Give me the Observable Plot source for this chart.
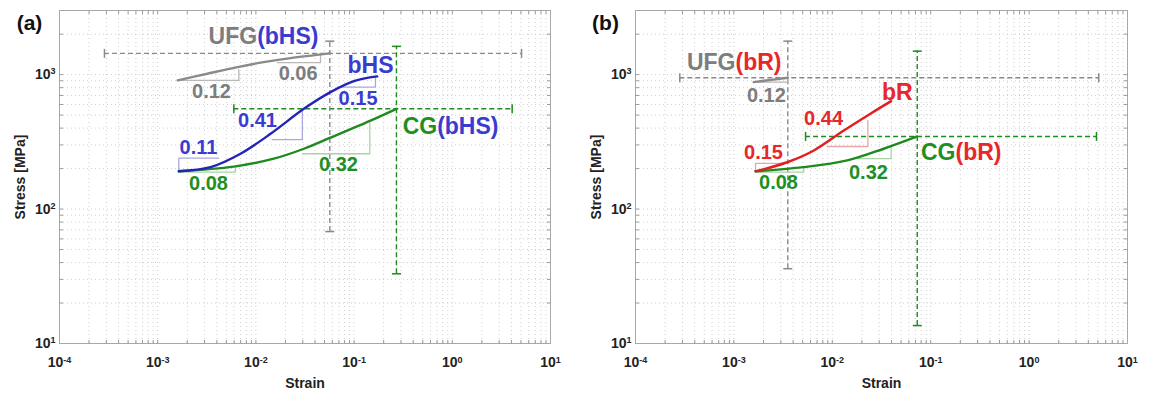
<!DOCTYPE html>
<html><head><meta charset="utf-8">
<script src="https://cdn.jsdelivr.net/npm/d3@7"></script>
<script src="https://cdn.jsdelivr.net/npm/@observablehq/plot@0.6"></script>
<style>
body{margin:0;background:#fff;}
#wrap{display:flex;width:1150px;height:393px;overflow:hidden;}
#wrap svg{display:block;}
</style></head><body><div id="wrap"></div>
<script>
// ---------------- axis ticks ----------------
const xDomain = [1e-4, 10];
const yDomain = [10, 3000];
const xMajorTicks = [1e-4, 1e-3, 1e-2, 1e-1, 1, 10];
const xTickLabels = ["10^-4", "10^-3", "10^-2", "10^-1", "10^0", "10^1"];
const yMajorTicks = [10, 100, 1000];
const yTickLabels = ["10^1", "10^2", "10^3"];

// ---------------- panel (a) : bHS ----------------
const aUFGStrain = [1.6e-3, 3.2e-3, 6.5e-3, 0.012, 0.0225, 0.0566];
const aUFGStress = [906, 1016, 1138, 1239, 1328, 1440];
const aBHSStrain = [1.64e-3, 3.45e-3, 6.97e-3, 0.0141, 0.0308, 0.0575, 0.0993, 0.172];
const aBHSStress = [191, 205, 258, 363, 557, 741, 895, 970];
const aCGStrain  = [1.64e-3, 5.96e-3, 0.0152, 0.0308, 0.0575, 0.147, 0.27];
const aCGStress  = [191, 207, 237, 281, 340, 455, 557];

const aErrKey       = ["gray", "green"];
const aErrStrain    = [0.0566, 0.27];
const aErrStress    = [1440, 557];
const aErrStrainLo  = [2.87e-4, 5.96e-3];
const aErrStrainHi  = [5.07, 4.07];
const aErrStressLo  = [68, 33];
const aErrStressHi  = [1775, 1623];

const aTriKey    = ["gray", "gray", "blue", "blue", "blue", "green", "green"];
const aTriStrain = [[1.6e-3, 6.7e-3, 6.7e-3], [0.0165, 0.0455, 0.0455], [1.64e-3, 1.64e-3, 4.18e-3],
                    [0.0147, 0.0297, 0.0297], [0.0673, 0.165, 0.165], [1.64e-3, 6.2e-3, 6.2e-3], [0.03, 0.1445, 0.1445]];
const aTriStress = [[906, 906, 1087], [1227, 1227, 1432], [191, 239, 239],
                    [328, 328, 557], [807, 807, 970], [188, 188, 207], [258, 258, 443]];

const aLabelText   = ["UFG", "(bHS)", "bHS", "CG", "(bHS)", "0.12", "0.06", "0.15", "0.41", "0.11", "0.08", "0.32"];
const aLabelKey    = ["gray", "blue", "blue", "green", "blue", "gray", "gray", "blue", "blue", "blue", "green", "green"];
const aLabelStrain = [0.0103, 0.0103, 0.147, 0.701, 0.701, 3.53e-3, 0.0269, 0.1097, 0.01038, 2.6e-3, 3.29e-3, 0.0693];
const aLabelStress = [1923, 1923, 1170, 412, 412, 753, 1021, 665, 456, 287, 155, 215];
const aLabelAlign  = ["end", "start", "middle", "end", "start", "middle", "middle", "middle", "middle", "middle", "middle", "middle"];

// ---------------- panel (b) : bR ----------------
const bUFGStrain = [1.59e-3, 2.4e-3, 3.53e-3];
const bUFGStress = [879, 915, 948];
const bBRStrain  = [1.66e-3, 3.48e-3, 6.49e-3, 0.0131, 0.0244, 0.0396];
const bBRStress  = [191, 223, 273, 384, 512, 635];
const bCGStrain  = [1.66e-3, 5.13e-3, 0.0142, 0.0333, 0.073];
const bCGStress  = [191, 205, 230, 281, 347];

const bErrKey      = ["gray", "green"];
const bErrStrain   = [3.53e-3, 0.073];
const bErrStress   = [948, 347];
const bErrStrainLo = [2.82e-4, 5.35e-3];
const bErrStrainHi = [5.1, 4.84];
const bErrStressLo = [36, 13.6];
const bErrStressHi = [1775, 1496];

const bTriKey    = ["gray", "red", "red", "green", "green"];
const bTriStrain = [[1.59e-3, 3.53e-3, 3.53e-3], [1.66e-3, 1.66e-3, 3.34e-3], [8.87e-3, 0.023, 0.023],
                    [1.66e-3, 5.13e-3, 5.13e-3], [0.0179, 0.0396, 0.0396]];
const bTriStress = [[879, 879, 948], [191, 219, 219], [292, 292, 456], [188, 188, 205], [237, 237, 295]];

const bLabelText   = ["UFG", "(bR)", "bR", "CG", "(bR)", "0.12", "0.44", "0.15", "0.08", "0.32"];
const bLabelKey    = ["gray", "red", "red", "green", "red", "gray", "red", "red", "green", "green"];
const bLabelStrain = [1.038e-3, 1.038e-3, 0.0457, 0.1787, 0.1787, 2.14e-3, 8.15e-3, 2.0e-3, 2.84e-3, 0.0233];
const bLabelStress = [1239, 1239, 741, 265, 265, 700, 472, 265, 158, 188];
const bLabelAlign  = ["end", "start", "middle", "end", "start", "middle", "middle", "middle", "middle", "middle"];

// ---------------- styling ----------------
const LINE  = {gray: "#8a8a8a", blue: "#2424b4", green: "#1f8a1f", red: "#e0201e"};
const TEXT  = {gray: "#7d7d7d", blue: "#3b3bd0", green: "#1f8f1f", red: "#e6282b"};
const LIGHT = {gray: "#b8b8b8", blue: "#a9a9df", green: "#a8d4a8", red: "#eaa6a6"};
const SERIES_FONT = 23, SLOPE_FONT = 20;

const xMinor = d3.range(-4, 1).flatMap(e => d3.range(1, 10).map(m => m * Math.pow(10, e))).concat([10]);
const yMinor = d3.range(1, 3).flatMap(e => d3.range(1, 10).map(m => m * Math.pow(10, e))).concat([1000, 2000, 3000]);

const fmt = (ticks, labels) => d => labels[ticks.findIndex(t => Math.abs(Math.log10(t) - Math.log10(d)) < 1e-6)];

const rad = size => Math.sqrt(size / Math.PI);
const hbar = {draw(ctx, s) { const r = rad(s); ctx.moveTo(-r, 0); ctx.lineTo(r, 0); }};
const vbar = {draw(ctx, s) { const r = rad(s); ctx.moveTo(0, -r); ctx.lineTo(0, r); }};
const tickUp    = {draw(ctx, s) { ctx.moveTo(0, 0); ctx.lineTo(0, -rad(s)); }};
const tickDown  = {draw(ctx, s) { ctx.moveTo(0, 0); ctx.lineTo(0, rad(s)); }};
const tickRight = {draw(ctx, s) { ctx.moveTo(0, 0); ctx.lineTo(rad(s), 0); }};
const tickLeft  = {draw(ctx, s) { ctx.moveTo(0, 0); ctx.lineTo(-rad(s), 0); }};

function rows(xs, ys, k) { return xs.map((x, i) => ({x, y: ys[i], k})); }

function buildPanel(p) {
  const curves = p.curves.flatMap(c => rows(c.strain, c.stress, c.k));
  const errs = p.errKey.map((k, i) => ({k, x: p.errStrain[i], y: p.errStress[i],
    xLo: p.errStrainLo[i], xHi: p.errStrainHi[i], yLo: p.errStressLo[i], yHi: p.errStressHi[i]}));
  const hcaps = errs.flatMap(e => [{k: e.k, x: e.x, y: e.yLo}, {k: e.k, x: e.x, y: e.yHi}]);
  const vcaps = errs.flatMap(e => [{k: e.k, x: e.xLo, y: e.y}, {k: e.k, x: e.xHi, y: e.y}]);
  const tris = p.triKey.flatMap((k, j) => p.triStrain[j].map((x, i) => ({k, id: j, x, y: p.triStress[j][i]})));
  const labels = p.labelText.map((t, i) => ({t, k: p.labelKey[i], x: p.labelStrain[i], y: p.labelStress[i],
    a: p.labelAlign[i], big: /[A-Za-z]/.test(t)}));
  const xIn = xMinor.filter(v => v > xDomain[0] * 1.001 && v < xDomain[1] * 0.999);
  const yIn = yMinor.filter(v => v > yDomain[0] * 1.001 && v < yDomain[1] * 0.999);
  const bold = {fontWeight: "bold"};
  const edge = {fill: "none", stroke: "#9a9a9a", strokeWidth: 1, r: 3.5};
  const textMark = anchor => Plot.text(labels.filter(d => d.a === anchor), {x: "x", y: "y", text: "t",
    fill: d => TEXT[d.k], textAnchor: anchor, fontSize: d => d.big ? SERIES_FONT : SLOPE_FONT, ...bold});
  const svg = Plot.plot({
    width: 575, height: 393,
    marginLeft: p.ml, marginRight: p.mr, marginTop: 10, marginBottom: 50,
    x: {type: "log", domain: xDomain},
    y: {type: "log", domain: yDomain},
    style: {fontFamily: "'Liberation Sans', Arial, sans-serif", background: "white"},
    marks: [
      Plot.gridX(xMinor, {stroke: "#cfcfcf", strokeOpacity: 1, strokeDasharray: "1,3"}),
      Plot.gridY(yMinor, {stroke: "#cfcfcf", strokeOpacity: 1, strokeDasharray: "1,3"}),
      Plot.frame({stroke: "#a8a8a8"}),
      // small inward ticks on the frame
      Plot.dot(xIn, {x: d => d, y: () => yDomain[0], symbol: tickUp, ...edge}),
      Plot.dot(xIn, {x: d => d, y: () => yDomain[1], symbol: tickDown, ...edge}),
      Plot.dot(yIn, {y: d => d, x: () => xDomain[0], symbol: tickRight, ...edge}),
      Plot.dot(yIn, {y: d => d, x: () => xDomain[1], symbol: tickLeft, ...edge}),
      Plot.axisX(xMajorTicks, {tickFormat: fmt(xMajorTicks, xTickLabels), tickSize: 0, tickPadding: 14,
        fontSize: 14, ...bold, fill: "#222", label: null}),
      Plot.axisY(yMajorTicks, {tickFormat: fmt(yMajorTicks, yTickLabels), tickSize: 0, tickPadding: 4,
        fontSize: 14, ...bold, fill: "#222", label: null}),
      // error bars
      Plot.ruleY(errs, {y: "y", x1: "xLo", x2: "xHi", stroke: d => LINE[d.k], strokeWidth: 1.4, strokeDasharray: "5,3"}),
      Plot.ruleX(errs, {x: "x", y1: "yLo", y2: "yHi", stroke: d => LINE[d.k], strokeWidth: 1.4, strokeDasharray: "5,3"}),
      Plot.dot(hcaps, {x: "x", y: "y", symbol: hbar, r: 4.5, fill: "none", stroke: d => LINE[d.k], strokeWidth: 1.5}),
      Plot.dot(vcaps, {x: "x", y: "y", symbol: vbar, r: 4.5, fill: "none", stroke: d => LINE[d.k], strokeWidth: 1.5}),
      // slope triangles
      Plot.line(tris, {x: "x", y: "y", z: "id", stroke: d => LIGHT[d.k], strokeWidth: 1.3}),
      // curves
      Plot.line(curves, {x: "x", y: "y", z: "k", stroke: d => LINE[d.k], strokeWidth: 2.4, curve: "catmull-rom"}),
      // labels
      textMark("end"), textMark("start"), textMark("middle"),
      Plot.text([p.tag], {frameAnchor: "top-left", dx: -30, dy: 5, textAnchor: "middle", fontSize: 21, ...bold, fill: "#111"}),
      Plot.text(["Strain"], {frameAnchor: "bottom", dy: 44, textAnchor: "middle", fontSize: 14, ...bold, fill: "#222"}),
      Plot.text(["Stress [MPa]"], {frameAnchor: "left", dx: -39, rotate: -90, textAnchor: "middle", fontSize: 14, ...bold, fill: "#222"})
    ]
  });
  // superscript exponents in tick labels
  d3.select(svg).selectAll("text").each(function() {
    const t = this.textContent;
    if (t.includes("^") && this.children.length === 0) {
      const [base, exp] = t.split("^");
      const sel = d3.select(this);
      sel.text(null);
      sel.append("tspan").text(base);
      sel.append("tspan").attr("dy", "-0.55em").attr("font-size", "9px").text(exp);
    }
  });
  return svg;
}

const wrap = document.getElementById("wrap");
wrap.appendChild(buildPanel({
  tag: "(a)", ml: 59, mr: 25,
  curves: [{k: "gray", strain: aUFGStrain, stress: aUFGStress},
           {k: "green", strain: aCGStrain, stress: aCGStress},
           {k: "blue", strain: aBHSStrain, stress: aBHSStress}],
  errKey: aErrKey, errStrain: aErrStrain, errStress: aErrStress, errStrainLo: aErrStrainLo,
  errStrainHi: aErrStrainHi, errStressLo: aErrStressLo, errStressHi: aErrStressHi,
  triKey: aTriKey, triStrain: aTriStrain, triStress: aTriStress,
  labelText: aLabelText, labelKey: aLabelKey, labelStrain: aLabelStrain, labelStress: aLabelStress, labelAlign: aLabelAlign
}));
wrap.appendChild(buildPanel({
  tag: "(b)", ml: 60, mr: 23,
  curves: [{k: "gray", strain: bUFGStrain, stress: bUFGStress},
           {k: "green", strain: bCGStrain, stress: bCGStress},
           {k: "red", strain: bBRStrain, stress: bBRStress}],
  errKey: bErrKey, errStrain: bErrStrain, errStress: bErrStress, errStrainLo: bErrStrainLo,
  errStrainHi: bErrStrainHi, errStressLo: bErrStressLo, errStressHi: bErrStressHi,
  triKey: bTriKey, triStrain: bTriStrain, triStress: bTriStress,
  labelText: bLabelText, labelKey: bLabelKey, labelStrain: bLabelStrain, labelStress: bLabelStress, labelAlign: bLabelAlign
}));
</script></body></html>
